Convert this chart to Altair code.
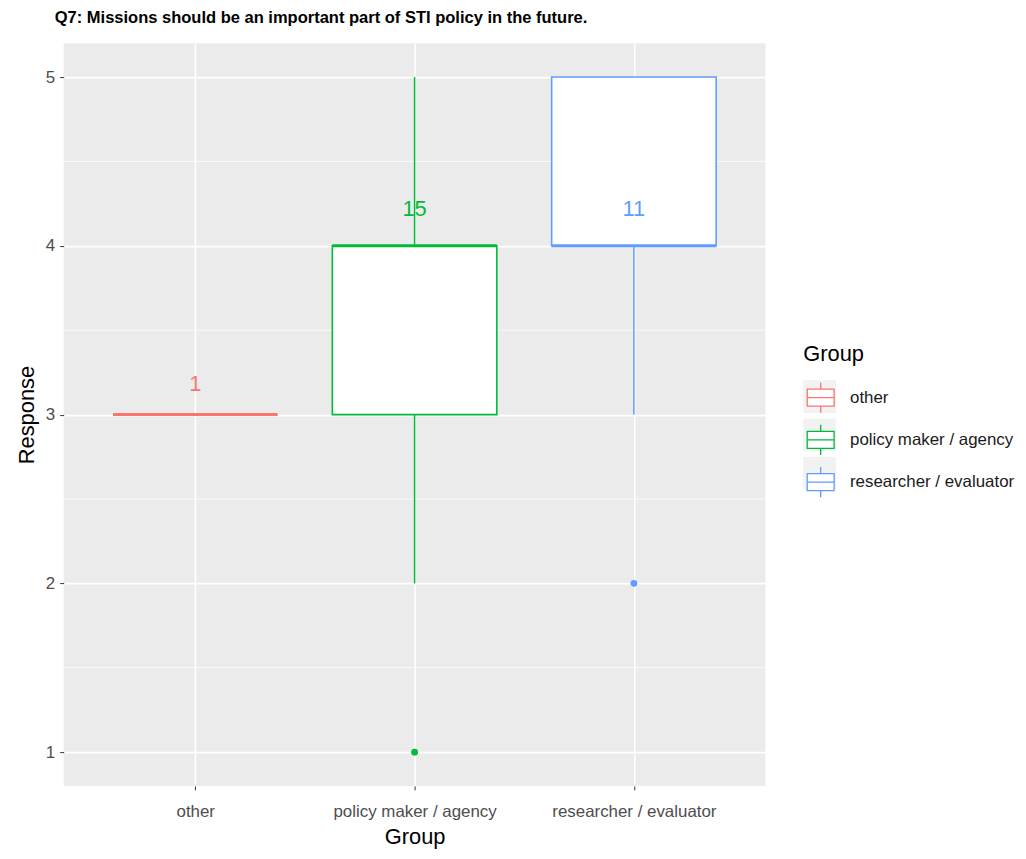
import altair as alt
import pandas as pd

# ---- data ----
groups = ["other", "policy maker / agency", "researcher / evaluator"]
counts = [1, 15, 11]
q1 = [3, 3, 4]
median = [3, 4, 4]
q3 = [3, 4, 5]
whisk_lo = [3, 2, 3]
whisk_hi = [3, 5, 5]
count_label_y = [3.18, 4.22, 4.22]
outlier_group = ["policy maker / agency", "researcher / evaluator"]
outlier_value = [1, 2]
y_ticks = [1, 2, 3, 4, 5]
colors = ["#F8766D", "#00BA38", "#619CFF"]

FONT = "Liberation Sans"
BOX_HALF = 0.375

pos = list(range(1, len(groups) + 1))
box = pd.DataFrame({
    "Group": groups, "pos": pos, "n": [str(c) for c in counts],
    "q1": q1, "median": median, "q3": q3, "lo": whisk_lo, "hi": whisk_hi,
    "ly": count_label_y,
})
box["xmin"] = box["pos"] - BOX_HALF
box["xmax"] = box["pos"] + BOX_HALF
box["Key"] = box["Group"]
out = pd.DataFrame({"Group": outlier_group, "value": outlier_value})
out["pos"] = out["Group"].map(dict(zip(groups, pos)))
minor = pd.DataFrame({"m": [(a + b) / 2 for a, b in zip(y_ticks, y_ticks[1:])]})

label_expr = " : ".join(
    [f"datum.value == {p} ? '{g}'" for p, g in zip(pos, groups)] + ["''"]
)

xscale = alt.Scale(domain=[0.4, len(groups) + 0.6], nice=False, zero=False)
yscale = alt.Scale(domain=[0.8, 5.2], nice=False, zero=False)
cscale = alt.Scale(domain=groups, range=colors)

xaxis = alt.Axis(values=pos, labelExpr=label_expr, title="Group", grid=True,
                 gridColor="white", gridWidth=1.6, domain=False, tickColor="#333333",
                 tickSize=4, labelColor="#4D4D4D", labelFontSize=17, labelFont=FONT,
                 labelPadding=14, titleFontSize=22, titleFont=FONT, titleFontWeight="normal",
                 titleColor="black", titlePadding=7, labelAngle=0)
yaxis = alt.Axis(values=y_ticks, format="d", title="Response", grid=True, gridColor="white",
                 gridWidth=1.6, domain=False, tickColor="#333333", tickSize=4,
                 labelColor="#4D4D4D", labelFontSize=17, labelFont=FONT, labelPadding=5,
                 titleFontSize=22, titleFont=FONT, titleFontWeight="normal",
                 titleColor="black", titlePadding=7)

LEG_X, LEG_Y = 744, 303
common_leg = dict(orient="none", legendX=LEG_X, legendY=LEG_Y, titleFontSize=22,
                  titleFont=FONT, titleFontWeight="normal", labelFont=FONT,
                  labelFontSize=17, symbolSize=1089, rowPadding=5.5, labelOffset=12,
                  titlePadding=14, symbolOffset=0, labelLimit=400)

base = alt.Chart(box)

minor_grid = alt.Chart(minor).mark_rule(color="white", strokeWidth=0.8).encode(
    y=alt.Y("m:Q", scale=yscale, axis=yaxis)
)

keybg = base.mark_point(shape="square", filled=True, opacity=0).encode(
    x=alt.X("pos:Q", scale=xscale, axis=xaxis),
    y=alt.Y("median:Q", scale=yscale),
    fill=alt.Fill("Key:N", scale=alt.Scale(range=["#F2F2F2"] * 3),
                  legend=alt.Legend(title=" ", titleColor="transparent",
                                    labelExpr="''", labelColor="transparent",
                                    symbolType="square", symbolOpacity=1,
                                    symbolStrokeWidth=0, **common_leg)),
)

stroke_legend = alt.Legend(
    title="Group",
    symbolType="M-0.82,-0.52H0.82V0.52H-0.82Z M0,-0.92V-0.52 M0,0.52V0.92 M-0.82,0H0.82",
    symbolFillColor="white", symbolStrokeWidth=1.3, labelColor="#1A1A1A",
    titleColor="black", **common_leg)

whisk_low = base.transform_filter("datum.lo < datum.q1").mark_rule(strokeWidth=1.5).encode(
    x=alt.X("pos:Q", scale=xscale),
    y=alt.Y("lo:Q", scale=yscale), y2="q1:Q",
    stroke=alt.Stroke("Group:N", scale=cscale, legend=stroke_legend),
)
whisk_high = base.transform_filter("datum.hi > datum.q3").mark_rule(strokeWidth=1.5).encode(
    x=alt.X("pos:Q", scale=xscale),
    y=alt.Y("q3:Q", scale=yscale), y2="hi:Q",
    stroke=alt.Stroke("Group:N", scale=cscale, legend=None),
)
boxes = base.mark_bar(fill="white", strokeWidth=1.6).encode(
    x=alt.X("xmin:Q", scale=xscale), x2="xmax:Q",
    y=alt.Y("q1:Q", scale=yscale), y2="q3:Q",
    stroke=alt.Stroke("Group:N", scale=cscale, legend=None),
)
med = base.mark_rule(strokeWidth=3).encode(
    x=alt.X("xmin:Q", scale=xscale), x2="xmax:Q",
    y=alt.Y("median:Q", scale=yscale),
    stroke=alt.Stroke("Group:N", scale=cscale, legend=None),
)
outliers = alt.Chart(out).mark_circle(size=48, opacity=1).encode(
    x=alt.X("pos:Q", scale=xscale),
    y=alt.Y("value:Q", scale=yscale),
    fill=alt.Fill("Group:N", scale=cscale, legend=None),
)
count_text = base.mark_text(fontSize=22, font=FONT, baseline="middle").encode(
    x=alt.X("pos:Q", scale=xscale),
    y=alt.Y("ly:Q", scale=yscale),
    text="n:N",
    fill=alt.Fill("Group:N", scale=cscale, legend=None),
)

chart = alt.layer(
    minor_grid, keybg, whisk_low, whisk_high, boxes, med, outliers, count_text
).resolve_scale(fill="independent", stroke="independent").properties(
    width=706, height=747,
    autosize=alt.AutoSizeParams(type="none"),
    padding={"left": 56, "top": 33, "right": 254, "bottom": 63},
    title=alt.TitleParams(
        "Q7: Missions should be an important part of STI policy in the future.",
        anchor="start", frame="group", fontSize=16.6, fontWeight="bold", font=FONT,
        color="black", dx=-9, offset=4, baseline="alphabetic",
    ),
).configure_view(fill="#EBEBEB", stroke=None)

chart.save("out.html", embed_options={"renderer": "svg", "actions": False})
